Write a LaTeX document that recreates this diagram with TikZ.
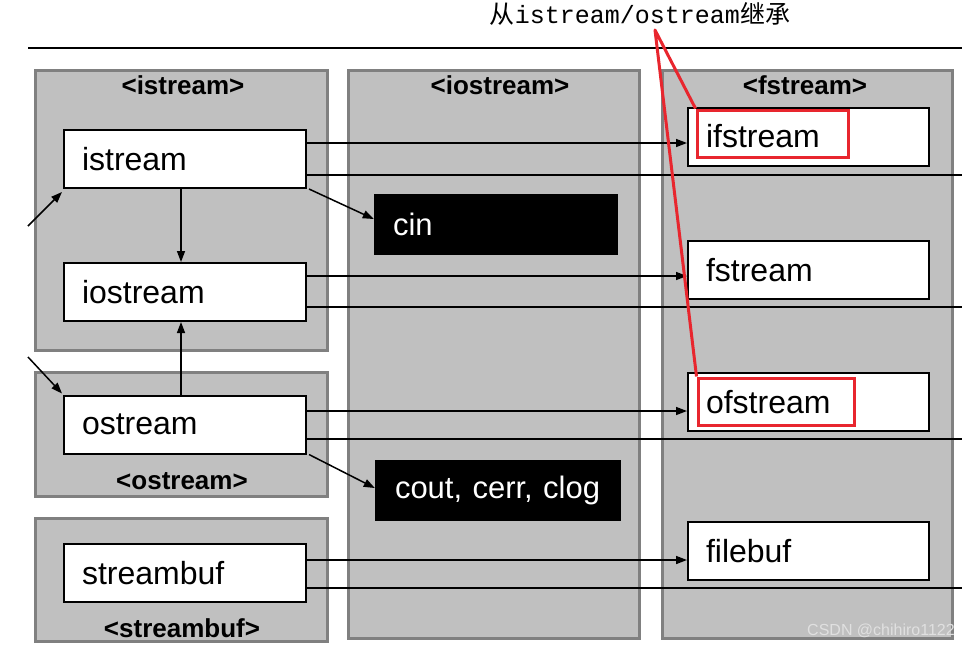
\documentclass[tikz,border=0pt]{standalone}
\usepackage{fontspec}
\setmainfont{Liberation Sans}
\newfontfamily\cjk{Noto Sans CJK SC}
\newfontfamily\monof{Liberation Mono}
\usetikzlibrary{arrows.meta}
\definecolor{panelfill}{HTML}{C0C0C0}
\definecolor{panelline}{HTML}{808080}
\definecolor{annred}{HTML}{E8262E}
\tikzset{
  panel/.style={draw=panelline, line width=3pt, fill=panelfill, inner sep=0pt, minimum width=#1},
  hdr/.style={font=\fontsize{26}{30}\selectfont\bfseries, inner sep=0pt},
  cls/.style={draw=black, line width=2pt, fill=white, minimum width=242pt, minimum height=58pt,
    text width=206pt, align=left, inner xsep=18pt, inner ysep=0pt, font=\fontsize{32}{36}\selectfont},
  obj/.style={draw=black, fill=black, text=white, minimum width=243pt, minimum height=60pt,
    text width=205pt, align=left, inner xsep=19pt, inner ysep=0pt, font=\fontsize{31}{36}\selectfont},
  conn/.style={draw=black, line width=1.5pt},
  arr/.style={conn, -{Triangle[length=11pt,width=8pt]}},
  redbox/.style={draw=annred, line width=3pt, inner sep=0pt},
  redline/.style={draw=annred, line width=3pt, line join=round},
}
\begin{document}
\begin{tikzpicture}[x=1pt,y=-1pt]
\useasboundingbox (0,0) rectangle (973,646);
% top rule
\coordinate (ruleL) at (28,48);
\coordinate (ruleR) at (962,48);
\draw[line width=2.5pt] (ruleL) -- (ruleR);
% panels
\node[panel=292pt, minimum height=280pt] (pis) at (181,210) {};
\node[panel=291pt, minimum height=568pt] (pio) at (493.5,354) {};
\node[panel=290pt, minimum height=568pt] (pfs) at (807,354) {};
\node[panel=292pt, minimum height=124pt] (pos) at (181,434) {};
\node[panel=292pt, minimum height=123pt] (psb) at (181,579.5) {};
% headers
\node[hdr] (his) at (183,85) {<istream>};
\node[hdr] (hio) at (500,85) {<iostream>};
\node[hdr] (hfs) at (805,85) {<fstream>};
\node[hdr] (hos) at (182,481) {<ostream>};
\node[hdr] (hsb) at (182,628) {<streambuf>};
% class boxes
\node[cls] (istream) at (185,159) {istream};
\node[cls] (iostream) at (185,292) {iostream};
\node[cls] (ostream) at (185,424.5) {ostream};
\node[cls] (streambuf) at (185,573) {streambuf};
\node[cls, minimum width=241pt, text width=205pt] (ifstream) at (808.5,136.5) {ifstream};
\node[cls, minimum width=241pt, text width=205pt] (fstream) at (808.5,270) {fstream};
\node[cls, minimum width=241pt, text width=205pt] (ofstream) at (808.5,402) {ofstream};
\node[cls, minimum width=241pt, text width=205pt] (filebuf) at (808.5,551) {filebuf};
% objects
\node[obj] (cin) at (495.5,224) {cin};
\node[obj, inner xsep=20pt] (cout) at (497.5,490) {\mbox{cout, cerr, clog}};
% free ends
\coordinate (e1) at (962,175);
\coordinate (e2) at (962,307);
\coordinate (e3) at (962,439);
\coordinate (e4) at (962,588);
\coordinate (in1) at (28,226);
\coordinate (in2) at (28,357);
% connectors
\draw[arr] (istream.east |- 0,143) -- (ifstream.west |- 0,143);
\draw[conn] (istream.east |- e1) -- (e1);
\draw[arr] (iostream.east |- 0,276) -- (fstream.west |- 0,276);
\draw[conn] (iostream.east |- e2) -- (e2);
\draw[arr] (ostream.east |- 0,411) -- (ofstream.west |- 0,411);
\draw[conn] (ostream.east |- e3) -- (e3);
\draw[arr] (streambuf.east |- 0,560) -- (filebuf.west |- 0,560);
\draw[conn] (streambuf.east |- e4) -- (e4);
\draw[arr] ([xshift=2pt]istream.south east) -- ([yshift=5pt]cin.west);
\draw[arr] ([xshift=2pt]ostream.south east) -- ([yshift=2pt]cout.west);
\draw[arr] (in1) -- ([xshift=-1pt,yshift=-3pt]istream.south west);
\draw[arr] (in2) -- ([xshift=-1pt,yshift=1pt]ostream.north west);
\draw[arr] ([xshift=-4pt]istream.south) -- ([xshift=-4pt]iostream.north);
\draw[arr] ([xshift=-4pt]ostream.north) -- ([xshift=-4pt]iostream.south);
% annotation
\node[inner sep=0pt, font=\fontsize{25}{28}\selectfont] (note) at (640,14) {{\cjk 从}{\monof istream/ostream}{\cjk 继承}};
\coordinate (rtop) at (655,30);
\node[redbox, minimum width=151pt, minimum height=47pt] (rifs) at (772.5,133.5) {};
\node[redbox, minimum width=156pt, minimum height=47pt] (rofs) at (776,401.5) {};
\draw[redline] (rifs.north west) -- (rtop) -- (rofs.north west);
% watermark
\node[inner sep=0pt, text=white!88!black, font=\fontsize{16}{18}\selectfont] (wm) at (881,631) {CSDN @chihiro1122};
\end{tikzpicture}
\end{document}
